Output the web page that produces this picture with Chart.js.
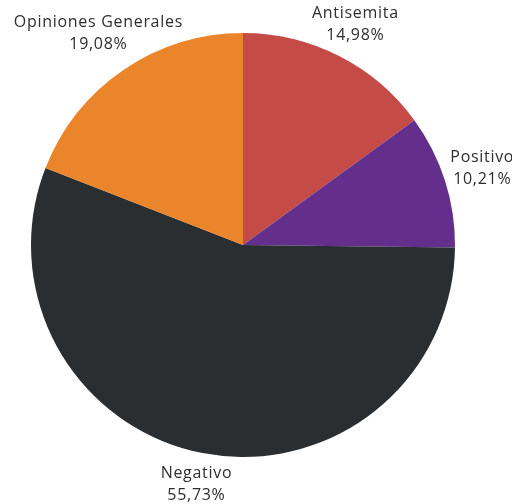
<!DOCTYPE html>
<html>
<head>
<meta charset="utf-8">
<script src="https://cdn.jsdelivr.net/npm/chart.js@4"></script>
<style>
html,body{margin:0;padding:0;background:#fff;}
#wrap{width:512px;height:504px;}
</style>
</head>
<body>
<div id="wrap"><canvas id="c" width="512" height="504"></canvas></div>
<script>
const categories = ["Antisemita", "Positivo", "Negativo", "Opiniones Generales"];
const values = [14.98, 10.21, 55.73, 19.08];
const valueLabels = ["14,98%", "10,21%", "55,73%", "19,08%"];
const colors = ["#c54b46", "#642f8c", "#2b2e30", "#eb852b"];

const outerLabels = {
  id: 'outerLabels',
  afterDraw(chart) {
    const ctx = chart.ctx;
    const meta = chart.getDatasetMeta(0);
    ctx.save();
    ctx.font = '16px "Open Sans", sans-serif';
    if ('letterSpacing' in ctx) ctx.letterSpacing = '0.7px';
    ctx.fillStyle = '#2e2e2e';
    ctx.textAlign = 'center';
    ctx.textBaseline = 'middle';
    meta.data.forEach((arc, i) => {
      const mid = (arc.startAngle + arc.endAngle) / 2;
      const w = Math.max(ctx.measureText(categories[i]).width, ctx.measureText(valueLabels[i]).width);
      const r = arc.outerRadius + 30 + 0.15 * w * Math.abs(Math.cos(mid));
      const cx = arc.x + Math.cos(mid) * r;
      const cy = arc.y + Math.sin(mid) * r;
      ctx.fillText(categories[i], cx, cy - 11);
      ctx.fillText(valueLabels[i], cx, cy + 11);
    });
    ctx.restore();
  }
};

new Chart(document.getElementById('c'), {
  type: 'pie',
  data: {
    labels: categories,
    datasets: [{ data: values, backgroundColor: colors, borderWidth: 0 }]
  },
  options: {
    responsive: false,
    animation: false,
    layout: { padding: { left: 31, right: 57, top: 33, bottom: 47 } },
    plugins: { legend: { display: false }, tooltip: { enabled: false } }
  },
  plugins: [outerLabels]
});
</script>
</body>
</html>
